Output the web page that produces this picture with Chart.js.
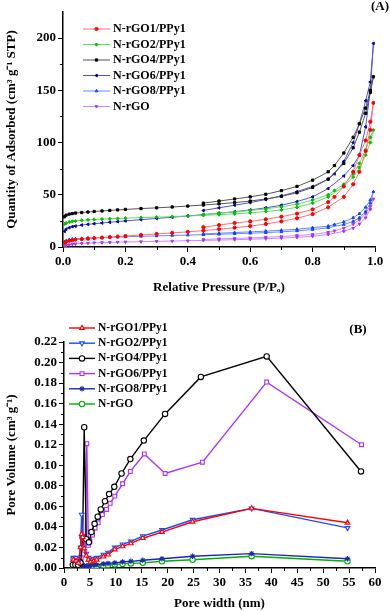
<!DOCTYPE html>
<html>
<head>
    <script src="https://cdn.jsdelivr.net/npm/chart.js@4.4.1/dist/chart.umd.min.js"></script>
    <style>
        body { margin: 0; background: #fff; }
        canvas { display: block; }
    </style>
</head>
<body>
    <canvas id="isoChart" width="390" height="300"></canvas>
    <canvas id="poreChart" width="390" height="311"></canvas>
    <script>
        // (A) N2 isotherms: adsorption branch then desorption branch
        const pressureAds = [0.005, 0.01, 0.02, 0.03, 0.04, 0.06, 0.08, 0.1, 0.125, 0.15, 0.175, 0.2, 0.25, 0.3, 0.35, 0.4,
            0.45, 0.5, 0.55, 0.6, 0.65, 0.7, 0.75, 0.8, 0.85, 0.9, 0.93, 0.95, 0.97, 0.985, 0.995];
        const pressureDes = [0.985, 0.97, 0.95, 0.93, 0.9, 0.87, 0.85, 0.8, 0.75, 0.7, 0.65, 0.6, 0.55, 0.5, 0.45];

        const rgo1Ads = [4, 5, 6, 6.5, 7, 7.5, 8, 8.5, 9, 9.5, 10, 10.5, 11.5, 12.5, 13.5, 14.5, 15.7, 17, 18.5, 20, 22, 24.5, 27.5, 31.5, 38, 48, 60, 72, 92, 112, 138];
        const rgo1Des = [120, 102, 88, 72, 58, 48, 43, 36, 32, 29, 26.5, 24.5, 23, 21, 19];
        const rgo2Ads = [22, 23, 24, 24.5, 25, 25.5, 26, 26.3, 26.7, 27, 27.3, 27.6, 28.1, 28.6, 29.1, 29.7, 30.3, 31, 31.8, 32.7, 34, 35.5, 38, 42, 48, 58, 67, 76, 88, 100, 112];
        const rgo2Des = [105, 93, 80, 70, 60, 54, 50, 45, 41, 38.5, 36.5, 35, 33.5, 32.5, 31];
        const rgo4Ads = [29, 30.5, 31.5, 32, 32.5, 33, 33.5, 34, 34.5, 35, 35.5, 36, 36.8, 37.5, 38.3, 39.2, 40.2, 41.3, 42.5, 44, 46, 48.5, 52, 57, 65, 80, 95, 110, 128, 148, 163];
        const rgo4Des = [150, 133, 118, 105, 90, 78, 72, 64, 58, 54, 50.5, 48, 46, 44, 42];
        const rgo6Ads = [15, 17, 18.5, 19.5, 20, 21, 21.7, 22.3, 23, 23.7, 24.3, 25, 26.2, 27.3, 28.5, 29.7, 31, 32.3, 33.8, 35.5, 37.5, 40, 43.5, 48, 56, 68, 78, 88, 115, 150, 195];
        const rgo6Des = [158, 140, 118, 100, 82, 70, 65, 58, 53, 49, 45.5, 42.5, 40, 37.5, 35];
        const rgo8Ads = [5, 6, 7, 7.5, 7.8, 8.2, 8.5, 8.8, 9, 9.3, 9.5, 9.8, 10.2, 10.6, 11, 11.4, 11.8, 12.2, 12.7, 13.2, 13.8, 14.5, 15.5, 16.7, 18.5, 21.5, 24.5, 28, 34, 42, 53];
        const rgo8Des = [45, 38, 32, 28, 24, 21.5, 20, 18.5, 17, 16, 15.2, 14.5, 13.8, 13.2, 12.6];
        const rgoAds = [0.5, 1.5, 2.2, 2.7, 3, 3.4, 3.7, 4, 4.2, 4.4, 4.6, 4.8, 5.1, 5.4, 5.7, 6, 6.3, 6.6, 7, 7.4, 7.9, 8.5, 9.3, 10.3, 12, 15, 18, 22, 28, 36, 46];
        const rgoDes = [39, 32, 26, 22, 18, 15.5, 14, 12, 11, 10, 9.3, 8.7, 8.2, 7.8, 7.2];

        const isoYTicks = [0, 50, 100, 150, 200];
        const isoXTicks = [0, 0.2, 0.4, 0.6, 0.8, 1.0];

        // (B) pore size distribution
        const widthCommon = [1.8, 2.3, 2.8, 3.2, 3.4, 3.6, 3.9, 4.3, 4.7, 5.1, 5.7, 6.3, 7.6, 8.5, 9.8, 11.3, 12.9, 15.2, 18.9, 24.8, 36.2, 54.7];
        const widthRGO4 = [1.7, 2.2, 2.7, 3.2, 3.6, 3.9, 4.3, 4.8, 5.3, 5.9, 6.5, 7.1, 7.9, 8.7, 9.7, 11.1, 12.8, 15.4, 19.5, 26.4, 39.1, 57.3];
        const widthRGO6 = [1.7, 2.2, 2.8, 3.3, 3.7, 4.1, 4.4, 4.7, 5.0, 5.5, 6.0, 6.6, 7.4, 8.2, 8.9, 9.8, 11.3, 12.8, 15.5, 19.5, 26.7, 39.1, 57.4];

        const pvRGO1 = [0.008, 0.007, 0.005, 0.02, 0.033, 0.03, 0.019, 0.012, 0.008, 0.006, 0.007, 0.008, 0.011, 0.013, 0.018, 0.021, 0.024, 0.029, 0.035, 0.045, 0.058, 0.044];
        const pvRGO2 = [0.010, 0.010, 0.006, 0.02, 0.052, 0.03, 0.022, 0.014, 0.010, 0.008, 0.009, 0.010, 0.013, 0.015, 0.020, 0.023, 0.026, 0.031, 0.037, 0.047, 0.058, 0.039];
        const pvRGO4 = [0.003, 0.003, 0.003, 0.005, 0.03, 0.137, 0.028, 0.025, 0.035, 0.043, 0.05, 0.057, 0.065, 0.072, 0.079, 0.092, 0.106, 0.124, 0.15, 0.186, 0.206, 0.094];
        const pvRGO6 = [0.008, 0.006, 0.003, 0.01, 0.024, 0.028, 0.121, 0.022, 0.026, 0.032, 0.039, 0.044, 0.052, 0.057, 0.063, 0.070, 0.082, 0.094, 0.111, 0.092, 0.103, 0.181, 0.120];
        const pvRGO8 = [0.002, 0.002, 0.002, 0.003, 0.003, 0.002, 0.002, 0.002, 0.002, 0.0025, 0.003, 0.003, 0.004, 0.0045, 0.005, 0.006, 0.0065, 0.0075, 0.009, 0.0115, 0.014, 0.009];
        const pvRGO = [0.001, 0.001, 0.001, 0.001, 0.0015, 0.0015, 0.001, 0.001, 0.0015, 0.0015, 0.002, 0.002, 0.0025, 0.003, 0.0035, 0.004, 0.0045, 0.005, 0.0065, 0.008, 0.0115, 0.0065];

        const poreYTicks = [0, 0.02, 0.04, 0.06, 0.08, 0.10, 0.12, 0.14, 0.16, 0.18, 0.20, 0.22];
        const poreXTicks = [0, 5, 10, 15, 20, 25, 30, 35, 40, 45, 50, 55, 60];

        Chart.defaults.font.family = '"Liberation Serif", "Times New Roman", serif';
        Chart.defaults.font.weight = 'bold';
        Chart.defaults.font.size = 13;
        Chart.defaults.color = '#000';

        function pairs(xs, ys) {
            return xs.map((x, i) => ({ x: x, y: ys[i] }));
        }
        function loop(ads, des) {
            return pairs(pressureAds, ads).concat(pairs(pressureDes, des));
        }

        // minor ticks, inline legend and panel letter
        const decor = {
            id: 'decor',
            afterDraw(chart, args, opts) {
                const ctx = chart.ctx;
                ctx.save();
                ctx.strokeStyle = '#000';
                ctx.lineWidth = 1;
                ['x', 'y'].forEach(id => {
                    const s = chart.scales[id];
                    const t = s.ticks.map(k => k.value);
                    for (let i = 0; i < t.length - 1; i++) {
                        const p = Math.round(s.getPixelForValue((t[i] + t[i + 1]) / 2)) + 0.5;
                        ctx.beginPath();
                        if (id === 'x') { ctx.moveTo(p, s.top); ctx.lineTo(p, s.top + 3); }
                        else { ctx.moveTo(s.right, p); ctx.lineTo(s.right - 3, p); }
                        ctx.stroke();
                    }
                });

                ctx.font = opts.font;
                ctx.textBaseline = 'middle';
                ctx.textAlign = 'left';
                chart.data.datasets.forEach((ds, i) => {
                    const y = opts.y + i * opts.gap;
                    ctx.strokeStyle = ds.borderColor;
                    ctx.lineWidth = ds.borderWidth;
                    ctx.beginPath();
                    ctx.moveTo(opts.x, y);
                    ctx.lineTo(opts.x + opts.len, y);
                    ctx.stroke();
                    ctx.fillStyle = ds.pointBackgroundColor;
                    ctx.strokeStyle = ds.pointBorderColor;
                    ctx.lineWidth = ds.pointBorderWidth;
                    Chart.helpers.drawPoint(ctx, {
                        pointStyle: ds.pointStyle,
                        rotation: ds.pointRotation || 0,
                        radius: ds.pointRadius,
                        borderWidth: ds.pointBorderWidth
                    }, opts.x + opts.len / 2, y);
                    ctx.fillStyle = '#000';
                    ctx.fillText(ds.label, opts.x + opts.len + 3, y);
                });

                ctx.font = 'bold 13px "Liberation Serif"';
                ctx.textAlign = 'center';
                ctx.fillText(opts.panel, opts.px, opts.py);
                ctx.restore();
            }
        };

        function isoSet(label, data, line, mark, style, rot) {
            return {
                label: label, data: data, showLine: true,
                borderColor: line, borderWidth: 1,
                pointStyle: style, pointRotation: rot || 0, pointRadius: 1.6,
                pointBackgroundColor: mark, pointBorderColor: mark, pointBorderWidth: 1
            };
        }
        function poreSet(label, data, color, style, rot) {
            return {
                label: label, data: data, showLine: true,
                borderColor: color, borderWidth: 1.4,
                pointStyle: style, pointRotation: rot || 0, pointRadius: 2.7,
                pointBackgroundColor: '#fff', pointBorderColor: color, pointBorderWidth: 1.1
            };
        }

        function axis(ticks, min, max, title, fmt, size, titlePad) {
            return {
                type: 'linear', min: min, max: max,
                afterBuildTicks: s => { s.ticks = ticks.map(v => ({ value: v })); },
                afterFit: s => { if (s.isHorizontal()) s.height = size; else s.width = size; },
                grid: { display: true, drawOnChartArea: false, drawTicks: true, tickLength: 5, color: '#000', lineWidth: 1 },
                border: { display: true, color: '#000', width: 1.5 },
                ticks: { padding: 2, maxRotation: 0, autoSkip: false, callback: v => v.toFixed(fmt) },
                title: { display: true, text: title, padding: titlePad }
            };
        }

        new Chart(document.getElementById('isoChart'), {
            type: 'scatter',
            data: {
                datasets: [
                    isoSet('N-rGO1/PPy1', loop(rgo1Ads, rgo1Des), '#ff7070', '#ff0000', 'circle'),
                    isoSet('N-rGO2/PPy1', loop(rgo2Ads, rgo2Des), '#66dd66', '#00c000', 'rectRot'),
                    isoSet('N-rGO4/PPy1', loop(rgo4Ads, rgo4Des), '#555555', '#000000', 'rect'),
                    isoSet('N-rGO6/PPy1', loop(rgo6Ads, rgo6Des), '#5555cc', '#0000aa', 'triangle', -90),
                    isoSet('N-rGO8/PPy1', loop(rgo8Ads, rgo8Des), '#6688ff', '#1144ff', 'triangle'),
                    isoSet('N-rGO', loop(rgoAds, rgoDes), '#cc88ff', '#aa33ff', 'triangle', 180)
                ]
            },
            options: {
                responsive: false,
                animation: false,
                layout: { padding: { top: 12, right: 15, left: 0, bottom: 0 } },
                plugins: {
                    legend: { display: false },
                    tooltip: { enabled: false },
                    decor: { x: 83, y: 29, gap: 15.5, len: 27, font: 'bold 12px "Liberation Serif"', panel: '(A)', px: 380, py: 7 }
                },
                scales: {
                    x: axis(isoXTicks, 0, 1, 'Relative Pressure (P/P\u2092)', 1, 53, { top: 0, bottom: 5 }),
                    y: axis(isoYTicks, 0, 225, 'Quantity of Adsorbed (cm\u00b3 g\u207b\u00b9 STP)', 0, 63, { top: 4, bottom: 0 })
                }
            },
            plugins: [decor]
        });

        new Chart(document.getElementById('poreChart'), {
            type: 'scatter',
            data: {
                datasets: [
                    poreSet('N-rGO1/PPy1', pairs(widthCommon, pvRGO1), '#ff0000', 'triangle'),
                    poreSet('N-rGO2/PPy1', pairs(widthCommon, pvRGO2), '#1a4cff', 'triangle', 180),
                    poreSet('N-rGO4/PPy1', pairs(widthRGO4, pvRGO4), '#000000', 'circle'),
                    poreSet('N-rGO6/PPy1', pairs(widthRGO6, pvRGO6), '#aa33ff', 'rect'),
                    poreSet('N-rGO8/PPy1', pairs(widthCommon, pvRGO8), '#1a2aaa', 'star'),
                    poreSet('N-rGO', pairs(widthCommon, pvRGO), '#00b000', 'circle')
                ]
            },
            options: {
                responsive: false,
                animation: false,
                layout: { padding: { top: 42, right: 15, left: 0, bottom: 0 } },
                plugins: {
                    legend: { display: false },
                    tooltip: { enabled: false },
                    decor: { x: 69, y: 28, gap: 15.2, len: 26, font: 'bold 11.5px "Liberation Serif"', panel: '(B)', px: 358, py: 30 }
                },
                scales: {
                    x: axis(poreXTicks, 0, 60, 'Pore width (nm)', 0, 43, { top: 0, bottom: 0 }),
                    y: axis(poreYTicks, 0, 0.22, 'Pore Volume (cm\u00b3 g\u207b\u00b9)', 2, 64, { top: 4, bottom: 0 })
                }
            },
            plugins: [decor]
        });
    </script>
</body>
</html>
